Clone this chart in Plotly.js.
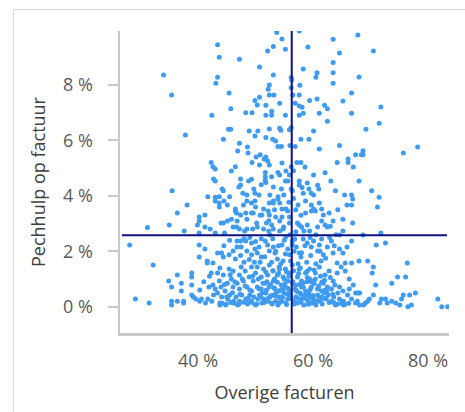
<!DOCTYPE html>
<html><head><meta charset="utf-8">
<script src="https://cdn.plot.ly/plotly-3.0.1.min.js"></script>
<style>
html,body{margin:0;padding:0;background:#fff;}
#wrap{position:relative;width:465px;height:412px;overflow:hidden;}
#frame{position:absolute;left:13px;top:9px;width:600px;height:600px;border:1.5px solid #d9d9d9;pointer-events:none;}
#chart{position:absolute;left:0;top:0;width:465px;height:412px;}
</style></head>
<body><div id="wrap"><div id="chart"></div><div id="frame"></div></div>
<script>
// Overige facturen (%) and Pechhulp op factuur (%) per point
const overige = [
53.7,57.6,67.8,43.4,54.6,55.2,53.1,52.1,59.1,63.5,70.5,64.6,43.7,47.2,63.5,50.7,58.3,63.5,60.7,60.5,63.5,68.0,34.0,35.4,43.4,43.1,53.1,56.2,56.3,56.2,52.4,52.2,57.7,56.5,57.6,52.4,53.2,50.7,49.9,45.4,66.7,65.2,60.7,59.4,62.0,62.5,71.8,54.2,56.9,57.6,58.1,50.3,51.8,45.7,42.4,48.3,49.4,52.8,52.8,51.8,55.2,57.6,58.3,61.1,66.7,62.5,56.2,55.9,52.4,50.4,48.9,45.3,45.7,54.4,54.2,69.2,71.5,37.8,60.1,
44.4,49.9,53.0,57.9,59.3,51.8,47.2,48.6,53.5,53.9,54.5,56.9,56.0,64.6,61.1,78.2,75.7,68.7,68.4,67.4,68.7,66.1,66.1,64.2,67.0,46.9,48.7,50.8,50.1,51.5,52.1,51.8,49.4,50.7,52.4,54.6,56.2,57.2,57.9,58.6,42.3,42.6,43.0,46.5,45.8,51.7,53.9,55.3,56.6,60.1,62.1,51.7,52.8,54.2,55.9,42.7,43.0,47.4,48.8,47.4,47.1,51.7,51.8,55.2,55.6,57.6,59.0,60.8,63.1,68.0,53.1,54.5,56.2,57.6,59.3,61.0,70.2,63.9,44.2,44.4,49.7,35.5,56.4,47.8,48.5,49.9,50.6,52.5,53.9,54.9,58.3,59.7,60.1,65.5,66.7,66.9,
41.7,43.0,43.7,45.5,71.5,38.1,36.4,35.0,31.2,37.6,40.2,40.2,39.9,41.2,41.2,42.1,43.0,43.7,43.7,44.5,45.1,46.5,46.5,46.7,47.4,47.9,48.5,49.3,49.9,48.3,49.3,49.6,51.4,52.4,53.1,53.1,54.2,54.6,55.3,55.6,55.8,53.9,52.2,51.1,52.4,53.5,54.6,55.9,57.4,58.7,59.7,60.1,59.7,60.4,61.1,61.5,62.8,61.8,61.5,58.7,65.9,66.7,71.2,65.2,63.5,66.9,44.0,44.4,45.1,45.8,46.8,48.5,50.2,51.9,52.8,54.2,54.9,55.9,57.3,57.6,58.0,59.0,62.1,62.5,46.1,46.7,47.2,48.1,48.5,49.5,50.3,51.4,52.3,53.1,54.2,54.8,58.4,59.4,60.8,65.2,71.8,68.7,64.6,44.6,43.0,40.2,
28.1,72.6,71.0,40.2,41.2,40.2,32.2,41.6,41.6,42.6,43.4,44.1,44.4,45.4,46.1,46.5,46.8,47.4,47.5,48.3,46.8,48.5,49.3,49.3,49.9,50.6,50.3,51.0,51.7,52.1,52.4,53.1,53.4,53.8,54.6,55.3,55.6,55.9,54.8,56.4,56.4,56.8,57.1,57.6,57.9,58.3,59.0,59.7,60.1,60.8,61.1,61.5,61.8,62.5,63.2,63.5,64.6,65.2,64.2,65.6,66.7,68.0,69.5,76.4,66.7,65.9,
34.9,35.4,36.4,37.1,37.1,38.9,38.9,38.9,70.3,70.5,70.9,73.7,74.7,76.1,77.8,76.8,75.7,67.8,67.0,66.3,66.3,65.6,64.9,64.2,63.5,63.8,62.8,62.1,61.8,61.1,60.4,60.1,59.4,59.4,58.7,58.0,57.6,57.3,56.9,56.4,55.9,55.6,55.2,54.8,54.5,54.1,53.8,53.1,53.1,52.4,52.1,51.7,51.4,51.0,50.3,50.0,49.6,49.3,48.9,48.2,47.9,47.5,47.2,46.8,46.1,45.8,45.4,45.1,44.4,43.7,43.4,42.6,42.3,41.9,43.0,44.0,44.7,46.1,47.2,48.5,49.3,50.3,51.0,52.4,53.4,54.1,55.2,55.9,56.9,58.0,58.7,59.7,60.8,61.5,62.5,63.2,64.6,65.2,67.4,68.1,
29.1,31.5,35.4,35.4,36.4,37.5,37.5,38.9,39.2,39.6,40.3,40.6,41.3,41.7,42.4,42.7,43.4,43.8,43.8,44.1,44.8,45.2,45.5,46.2,46.6,46.9,47.2,47.6,48.3,48.6,49.0,49.3,49.7,50.0,50.4,50.7,51.1,51.4,51.8,52.1,52.5,52.8,53.2,53.5,53.9,54.2,54.6,54.9,55.3,55.6,56.0,56.6,57.0,57.3,57.7,58.0,58.4,58.7,59.1,59.4,59.8,60.1,60.5,60.8,61.2,61.5,61.9,62.2,62.6,63.2,63.6,63.9,64.3,64.6,65.3,65.3,66.0,66.7,67.4,67.7,68.1,68.8,69.1,69.5,69.8,70.5,71.6,71.9,72.6,72.9,73.7,74.4,75.1,75.4,76.5,77.1,81.7,82.4,83.4,
50.5,51.2,52.0,52.7,53.3,53.6,54.0,54.3,54.8,55.0,55.5,55.8,56.1,56.5,56.8,57.2,57.5,57.9,58.2,58.6,59.0,59.3,59.7,60.0,60.4,60.7,61.0,61.3,61.7,62.0,62.4,62.8,63.0,63.4,49.0,49.5,48.7,48.2,47.7,47.3,46.4,46.0,45.6,45.0,44.6,50.8,51.6,52.8,53.5,54.4,55.2,56.1,56.7,57.4,58.0,58.9,59.6,60.5,61.4,62.2,49.8,48.9,48.0,47.4,53.0,54.0,55.0,52.5,51.0,50.0,49.0,48.0,56.0,57.0,58.6,59.5,60.5,61.2,62.9,63.7,64.0,52.3,53.3,50.8,50.0,57.9,57.0,56.6,58.1,51.0,49.3,63.0,64.3,45.5,44.5,43.8,42.0,41.0,40.3,
50.2,50.9,51.5,52.2,52.9,53.5,54.1,54.7,55.4,56.0,56.7,57.3,57.9,58.5,59.2,59.8,60.3,61.0,61.6,62.3,50.6,51.3,51.9,52.6,53.2,53.8,54.5,55.1,55.7,56.4,57.0,57.6,58.3,58.9,59.5,60.2,60.9,61.5,62.1,49.4,48.6,47.9,47.1,46.3,45.7,44.9,44.2,63.6,64.2,64.9,65.5,66.2,53.0,54.2,55.4,56.6,57.8,59.0,60.2,51.8
];
const pechhulp = [
9.9,9.95,9.81,9.45,9.66,9.29,9.39,9.23,9.37,9.65,9.23,9.16,9.0,8.93,8.81,8.65,8.58,8.44,8.44,8.28,8.06,8.29,8.36,7.64,8.28,8.06,8.36,8.27,8.18,7.9,8.0,7.85,7.99,7.64,7.64,7.64,7.64,7.56,7.44,7.71,7.71,7.42,7.5,7.44,7.27,7.14,7.21,7.34,7.34,7.24,7.2,7.28,7.27,7.14,6.91,7.0,7.0,7.05,6.91,6.91,6.91,6.91,6.98,6.98,6.98,6.69,6.47,6.39,6.41,6.34,6.34,6.4,6.4,6.37,6.44,6.4,6.62,6.2,6.34,
6.04,6.16,6.04,6.04,6.04,6.11,5.9,5.76,5.98,5.78,5.78,5.78,5.82,5.82,5.69,5.76,5.55,5.63,5.48,5.48,5.48,5.33,5.2,5.2,5.04,5.62,5.55,5.48,5.4,5.33,5.26,5.4,5.2,5.11,5.11,5.19,5.05,5.2,5.2,5.04,5.2,5.05,4.97,5.05,4.9,4.84,4.84,4.9,4.91,4.75,4.83,4.69,4.69,4.75,4.75,4.61,4.54,4.61,4.54,4.39,4.32,4.55,4.48,4.54,4.54,4.54,4.46,4.38,4.54,4.54,4.32,4.25,4.25,4.39,4.25,4.25,4.18,4.18,4.25,4.18,4.25,4.18,4.18,4.09,4.03,4.09,4.03,4.03,3.97,4.03,4.09,4.09,4.03,4.03,4.03,3.89,
3.97,3.95,3.97,3.97,3.95,3.67,3.38,2.95,2.86,2.73,3.24,3.09,2.95,3.31,2.88,2.8,3.81,3.74,3.6,3.81,3.67,3.53,3.45,3.38,3.31,3.67,3.81,3.74,3.81,3.38,3.38,3.38,3.53,3.74,3.81,3.74,3.74,3.53,3.53,3.45,3.77,3.89,3.45,3.31,3.31,3.24,3.24,3.24,3.67,3.81,3.67,3.53,3.45,3.45,3.74,3.53,3.38,3.31,3.09,3.38,3.67,3.67,3.6,3.16,3.09,3.02,3.02,3.02,3.09,3.16,3.09,3.16,3.02,3.02,2.95,3.09,2.88,3.02,3.02,2.95,2.88,2.95,2.95,2.88,2.88,2.88,2.8,2.73,2.8,2.8,2.88,2.8,2.73,2.8,2.73,2.8,2.73,2.73,2.88,2.73,2.66,2.59,2.59,2.66,2.66,2.66,
2.23,2.3,2.23,2.23,2.08,1.79,1.5,1.65,1.58,1.58,1.94,1.94,1.79,1.87,2.01,1.72,2.15,2.37,2.15,2.37,2.37,2.01,2.3,1.87,2.08,2.15,1.94,1.79,2.37,2.23,2.01,2.15,1.94,1.72,2.23,2.52,2.08,1.87,1.65,2.37,2.23,2.44,2.15,1.94,1.79,2.44,2.3,2.15,2.37,2.01,2.23,2.44,1.87,2.15,2.37,1.94,2.08,1.94,1.58,1.58,1.58,1.65,1.65,1.58,2.37,2.15,
0.93,0.71,1.14,0.85,0.57,1.22,1.07,0.78,1.22,1.43,0.78,0.85,1.07,1.07,0.49,0.42,0.42,0.49,0.78,0.64,1.0,1.29,1.43,1.22,0.93,0.78,1.29,1.14,0.85,1.43,1.22,0.93,1.36,1.0,1.22,0.93,1.36,1.07,0.78,1.5,1.22,0.93,1.36,1.07,0.78,1.43,1.14,1.29,0.93,1.5,1.14,0.85,1.36,1.07,1.43,1.22,0.93,1.43,1.07,1.29,0.93,1.43,1.14,0.85,1.29,1.0,1.36,0.85,1.14,0.93,1.22,0.78,1.22,0.71,0.64,0.71,0.57,0.71,0.64,0.71,0.57,0.71,0.64,0.71,0.64,0.57,0.71,0.57,0.64,0.71,0.57,0.71,0.64,0.57,0.71,0.64,0.71,0.57,0.49,0.49,
0.28,0.13,0.2,0.06,0.2,0.13,0.2,0.42,0.35,0.28,0.2,0.28,0.13,0.28,0.2,0.42,0.49,0.13,0.06,0.35,0.06,0.28,0.42,0.2,0.35,0.06,0.2,0.42,0.28,0.13,0.42,0.2,0.35,0.06,0.28,0.42,0.13,0.28,0.49,0.2,0.35,0.13,0.42,0.2,0.06,0.35,0.2,0.49,0.13,0.28,0.42,0.2,0.35,0.13,0.49,0.28,0.06,0.42,0.2,0.35,0.13,0.28,0.06,0.42,0.2,0.35,0.49,0.28,0.42,0.2,0.35,0.06,0.49,0.28,0.06,0.2,0.42,0.28,0.13,0.2,0.06,0.06,0.13,0.2,0.28,0.42,0.13,0.28,0.28,0.13,0.2,0.13,0.06,0.28,0.0,0.06,0.28,0.0,0.0,
1.0,0.5,0.9,0.4,1.0,0.5,1.2,0.3,0.6,1.0,0.45,1.1,0.3,0.9,0.15,0.55,1.2,0.45,0.85,0.3,1.05,0.5,0.9,0.4,1.0,0.2,0.75,1.1,0.3,0.95,0.55,0.15,1.05,0.45,0.6,1.1,0.3,0.75,1.0,0.45,0.9,0.5,1.15,0.35,0.8,1.6,1.8,1.6,2.0,1.55,1.9,1.65,2.0,1.55,1.95,1.6,1.85,1.55,1.65,1.75,1.6,1.7,1.6,1.85,2.45,2.2,2.4,2.6,2.45,2.35,2.5,2.45,2.6,2.7,2.2,2.5,2.6,2.0,2.5,2.2,2.6,3.1,3.5,3.3,3.6,3.3,3.5,3.9,4.3,4.4,4.6,2.9,3.5,2.4,2.2,1.4,1.1,0.9,0.6,
0.1,0.35,0.15,0.3,0.1,0.38,0.12,0.33,0.08,0.36,0.1,0.3,0.16,0.38,0.09,0.32,0.14,0.37,0.1,0.3,0.65,0.85,0.6,0.8,0.68,0.88,0.62,0.82,0.66,0.86,0.6,0.8,0.7,0.9,0.62,0.84,0.66,0.88,0.6,0.15,0.1,0.16,0.09,0.12,0.15,0.1,0.12,0.15,0.1,0.12,0.08,0.12,1.3,1.35,1.25,1.3,1.4,1.28,1.32,1.25
];
// Reference lines (averages)
const meanOverige = 56.3;
const meanPechhulp = 2.58;
const xTicks = [40, 60, 80];
const yTicks = [0, 2, 4, 6, 8];

const n = Math.min(overige.length, pechhulp.length);
const trace = {
  type: 'scatter', mode: 'markers',
  x: overige.slice(0, n), y: pechhulp.slice(0, n),
  marker: {color: '#3f9bef', size: 5, line: {width: 0}},
  hoverinfo: 'skip', cliponaxis: true
};
const fontFam = '"Open Sans", "Segoe UI", sans-serif';
const layout = {
  width: 465, height: 412,
  margin: {l: 120, r: 16, t: 31, b: 79},
  paper_bgcolor: '#ffffff', plot_bgcolor: '#ffffff',
  showlegend: false,
  font: {family: fontFam, color: '#595959', size: 18},
  xaxis: {
    range: [26.43, 83.65], tickvals: xTicks, ticktext: xTicks.map(v => v + ' %'),
    showgrid: false, zeroline: false, showline: true, linecolor: '#c9c9c9', linewidth: 2.5,
    ticks: '', ticklabelstandoff: 10,
    tickfont: {family: fontFam, size: 18, color: '#595959'},
    title: {text: 'Overige facturen', font: {family: fontFam, size: 18, color: '#404040'}, standoff: 16}
  },
  yaxis: {
    range: [-0.95, 9.95], tickvals: yTicks, ticktext: yTicks.map(v => v + ' %'),
    showgrid: false, zeroline: false, showline: true, linecolor: '#c9c9c9', linewidth: 2.5,
    ticks: 'outside', ticklen: 10, tickwidth: 2, tickcolor: '#c9c9c9', ticklabelstandoff: 11,
    tickfont: {family: fontFam, size: 18, color: '#595959'},
    title: {text: 'Pechhulp op factuur', font: {family: fontFam, size: 18, color: '#404040'}, standoff: 13}
  },
  shapes: [
    {type: 'line', xref: 'x', yref: 'paper', x0: meanOverige, x1: meanOverige, y0: 0, y1: 1,
     line: {color: '#10107f', width: 2}},
    {type: 'line', xref: 'paper', yref: 'y', x0: 0.006, x1: 0.994, y0: meanPechhulp, y1: meanPechhulp,
     line: {color: '#10107f', width: 2}}
  ]
};
Plotly.newPlot('chart', [trace], layout, {staticPlot: true, displayModeBar: false});
</script></body></html>
